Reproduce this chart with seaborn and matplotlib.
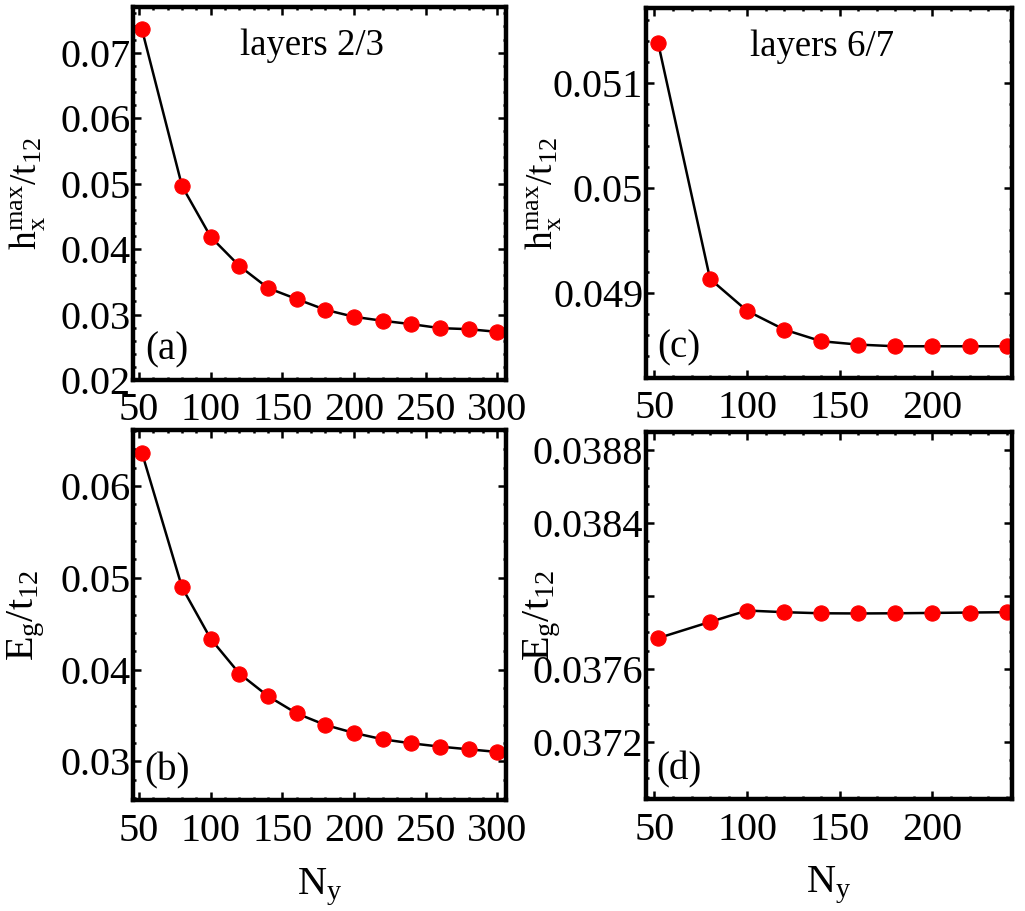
import matplotlib
matplotlib.use("Agg")
import matplotlib.pyplot as plt
import seaborn as sns
from matplotlib.ticker import MultipleLocator, AutoMinorLocator

# data
ny_23 = [52, 80, 100, 120, 140, 160, 180, 200, 220, 240, 260, 280, 300]
hx_23 = [0.07355, 0.04960, 0.04185, 0.03741, 0.03404, 0.03236, 0.03072,
         0.02965, 0.02904, 0.02853, 0.02792, 0.02776, 0.02735]
eg_23 = [0.06363, 0.04895, 0.04334, 0.03956, 0.03710, 0.03522, 0.03396,
         0.03309, 0.03240, 0.03196, 0.03160, 0.03131, 0.03102]

ny_67 = [52, 80, 100, 120, 140, 160, 180, 200, 220, 240]
hx_67 = [0.051378, 0.049133, 0.048829, 0.048651, 0.048540, 0.048508,
         0.048492, 0.048492, 0.048492, 0.048492]
eg_67 = [0.037768, 0.037857, 0.037919, 0.037910, 0.037904, 0.037903,
         0.037904, 0.037906, 0.037908, 0.037910]

sns.set_theme(style="ticks")
plt.rcParams["font.family"] = ["Liberation Serif", "DejaVu Serif"]
plt.rcParams["mathtext.fontset"] = "custom"
plt.rcParams["mathtext.rm"] = "Liberation Serif"
plt.rcParams["mathtext.it"] = "Liberation Serif"
plt.rcParams["mathtext.bf"] = "Liberation Serif:bold"
for k in ("text.color", "axes.labelcolor", "xtick.color", "ytick.color", "axes.edgecolor"):
    plt.rcParams[k] = "black"

fig = plt.figure(figsize=(10.25, 9.11), dpi=100)

axA = fig.add_axes([0.1298, 0.5829, 0.3639, 0.4094])
axB = fig.add_axes([0.1298, 0.1218, 0.3639, 0.4061])
axC = fig.add_axes([0.6302, 0.5851, 0.3571, 0.4061])
axD = fig.add_axes([0.6302, 0.1229, 0.3571, 0.4028])

panels = [
    (axA, ny_23, hx_23, (45.8, 306), (0.02, 0.07697), 0.01, 5, "(a)", "layers 2/3"),
    (axB, ny_23, eg_23, (45.8, 306), (0.02578, 0.0661), 0.01, 5, "(b)", None),
    (axC, ny_67, hx_67, (45.4, 242.9), (0.04819, 0.051714), 0.001, 5, "(c)", "layers 6/7"),
    (axD, ny_67, eg_67, (45.4, 242.9), (0.036887, 0.038896), 0.0004, 4, "(d)", None),
]

for ax, x, y, xl, yl, ystep, ymin, tag, title in panels:
    sns.lineplot(x=x, y=y, ax=ax, color="black", linewidth=1.8, marker="o",
                 markersize=11, markerfacecolor="red", markeredgecolor="red")
    ax.set_xlim(*xl)
    ax.set_ylim(*yl)
    ax.xaxis.set_major_locator(MultipleLocator(50))
    ax.xaxis.set_minor_locator(AutoMinorLocator(5))
    ax.yaxis.set_major_locator(MultipleLocator(ystep))
    ax.yaxis.set_minor_locator(AutoMinorLocator(ymin))
    ax.tick_params(which="both", direction="in", top=True, right=True,
                   labelsize=29, width=1.8, color="black")
    ax.tick_params(which="major", length=5.5)
    ax.tick_params(which="minor", length=2.5)
    ax.tick_params(axis="x", pad=9)
    ax.tick_params(axis="y", pad=2)
    for s in ax.spines.values():
        s.set_linewidth(3.2)
        s.set_color("black")
    ax.text(0.09, 0.08, tag, transform=ax.transAxes, fontsize=28,
            ha="center", va="center")
    if title:
        ax.text(0.48, 0.895, title, transform=ax.transAxes, fontsize=26.5,
                ha="center", va="center")

axA.yaxis.set_major_formatter(plt.FuncFormatter(lambda v, p: f"{v:.2f}"))
axB.yaxis.set_major_formatter(plt.FuncFormatter(lambda v, p: f"{v:.2f}"))
axC.yaxis.set_major_formatter(plt.FuncFormatter(lambda v, p: "0.05" if abs(v - 0.05) < 1e-9 else f"{v:.3f}"))
# the 0.0380 label is left out in the original
axD.yaxis.set_major_formatter(plt.FuncFormatter(lambda v, p: "" if abs(v - 0.038) < 1e-9 else f"{v:.4f}"))
axC.set_xticks([50, 100, 150, 200])
axD.set_xticks([50, 100, 150, 200])

hlab = r"$\mathrm{h_x^{max}/t_{12}}$"
elab = r"$\mathrm{E_g/t_{12}}$"
axA.set_ylabel(hlab, fontsize=27)
axC.set_ylabel(hlab, fontsize=27)
axB.set_ylabel(elab, fontsize=29)
axD.set_ylabel(elab, fontsize=29)
for ax in (axA, axB):
    ax.yaxis.set_label_coords(-0.232, 0.5)
for ax in (axC, axD):
    ax.yaxis.set_label_coords(-0.226, 0.5)
axB.set_xlabel(r"$\mathrm{N_y}$", fontsize=29)
axD.set_xlabel(r"$\mathrm{N_y}$", fontsize=29)
axB.xaxis.set_label_coords(0.5, -0.18)
axD.xaxis.set_label_coords(0.5, -0.18)

fig.savefig("out.png", dpi=100)
